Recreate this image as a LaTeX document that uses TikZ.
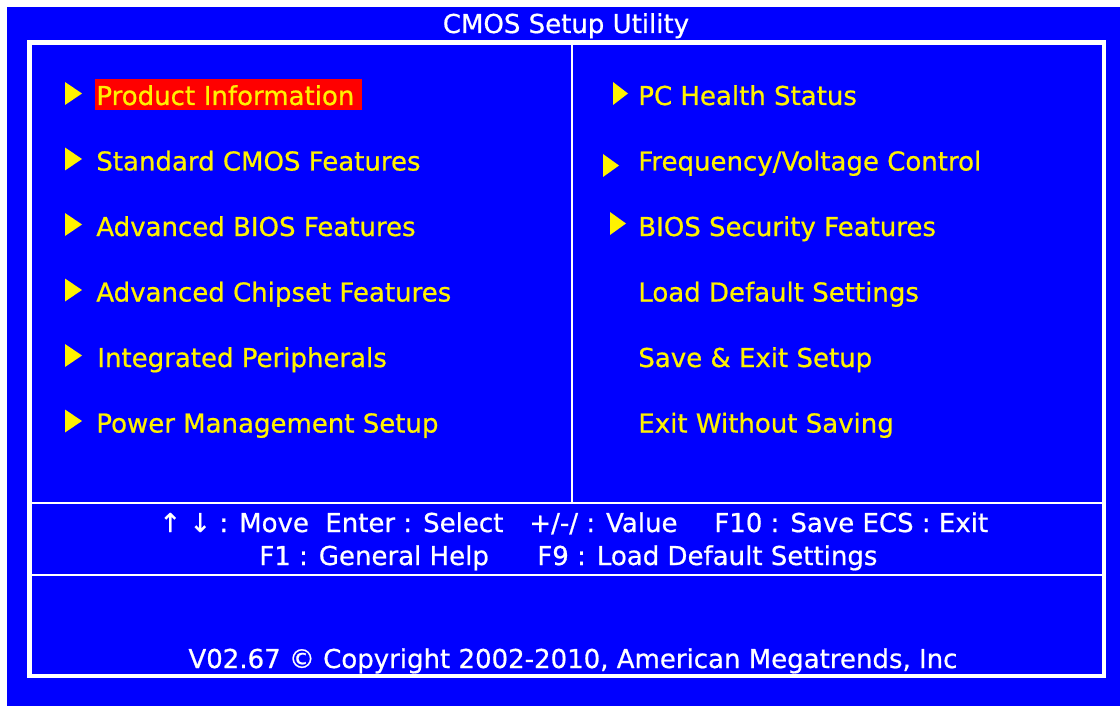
\documentclass[tikz,border=0pt]{standalone}
\usepackage{fontspec}
\setmainfont{DejaVu Sans}
\newfontfamily\biosface{DejaVu Sans}[FakeBold=0.7]
\usepackage{xcolor}
\definecolor{biosblue}{RGB}{0,0,255}
\newcommand\biosfont{\biosface\fontsize{14.8}{18}\selectfont}

\begin{document}
\begin{tikzpicture}[x=0.02cm,y=-0.02cm,
    menu/.style={anchor=base west,inner sep=0pt,text=yellow,font=\biosfont},
    keys/.style={anchor=base west,inner sep=0pt,text=white,font=\biosfont},
    rule/.style={draw=white,line width=2.8pt},
    pointer/.style={fill=yellow}]
\useasboundingbox (0,0) rectangle (1120,706);
    \fill[white] (0,0) rectangle (1120,706);
    \fill[biosblue] (7,7) rectangle (1120,706);
    % frame and dividers
    \draw[rule] (29.5,42.5) rectangle (1104,676);
    \draw[rule,line width=1.4pt] (572,42.5) -- (572,503);
    \draw[rule,line width=1.4pt] (29.5,503) -- (1104,503);
    \draw[rule,line width=1.4pt] (29.5,575) -- (1104,575);
\node[keys,anchor=base] (title) at (566,33) {CMOS Setup Utility};
% left column
\foreach \b in {105,170.5,236,301.5,367,432.5}
    \fill[pointer] (65,\b-23) -- (82,\b-11.5) -- (65,\b) -- cycle;
\node[menu,fill=red,inner xsep=0.6pt,text width=150.8pt,align=left,text height=14.7pt,text depth=2.8pt] (prodinfo) at (95,105) {Product Information};
\node[menu] (stdcmos) at (96,170.5) {Standard CMOS Features};
\node[menu] (advbios) at (96,236) {Advanced BIOS Features};
\node[menu] (advchip) at (96,301.5) {Advanced Chipset Features};
\node[menu] (integ) at (97,367) {Integrated Peripherals};
\node[menu] (power) at (96,432.5) {Power Management Setup};
% right column
\fill[pointer] (613,82) -- (628,93.5) -- (613,105) -- cycle;
\fill[pointer] (603,154) -- (619,165.5) -- (603,177) -- cycle;
\fill[pointer] (610,212) -- (626,223.5) -- (610,235) -- cycle;
\node[menu] (health) at (638,105) {PC Health Status};
\node[menu] (freq) at (638,170.5) {Frequency/Voltage Control};
\node[menu] (security) at (638,236) {BIOS Security Features};
\node[menu] (loaddef) at (638,301.5) {Load Default Settings};
\node[menu] (saveexit) at (638,367) {Save \& Exit Setup};
\node[menu] (nosave) at (638,432.5) {Exit Without Saving};
% key help
\node[keys] (move) at (159,532) {↑ ↓ : Move};
\node[keys] (enter) at (325,532) {Enter : Select};
\node[keys] (value) at (529,532) {+/-/ : Value};
\node[keys] (f10) at (714,532) {F10 : Save ECS : Exit};
\node[keys] (f1) at (259,565) {F1 : General Help};
\node[keys] (f9) at (537,565) {F9 : Load Default Settings};
\node[keys,anchor=base] (copyright) at (573,668) {V02.67 © Copyright 2002-2010, American Megatrends, Inc};
\end{tikzpicture}
\end{document}
